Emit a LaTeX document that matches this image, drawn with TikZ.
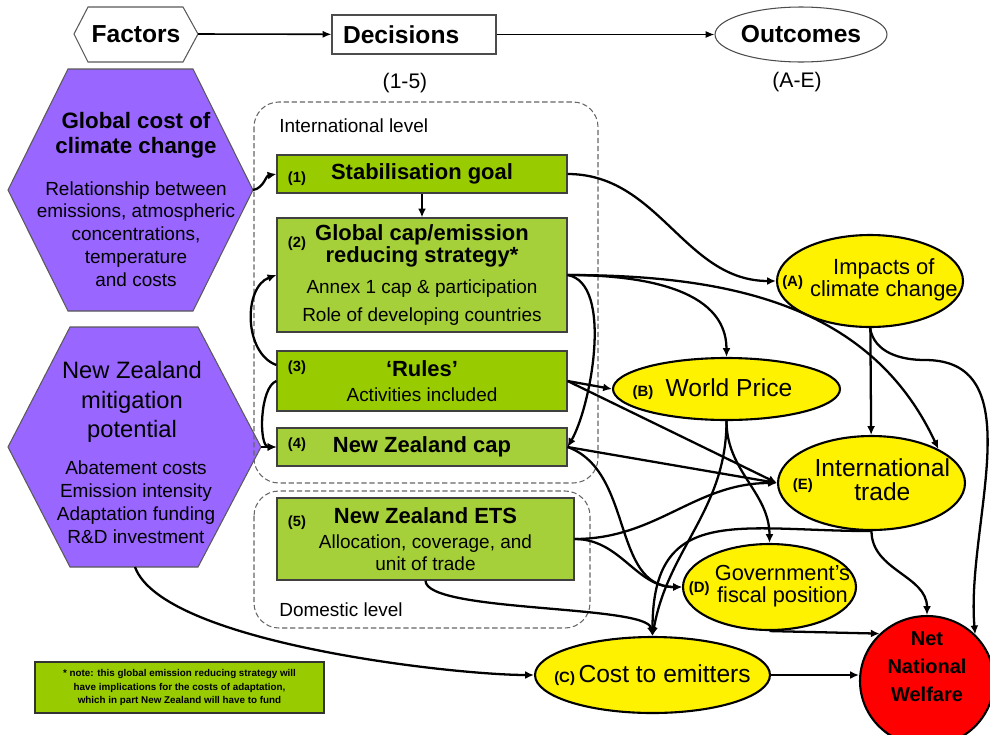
\documentclass[tikz,border=0pt]{standalone}
\usepackage{fontspec}
\setmainfont{Liberation Sans}
\usetikzlibrary{positioning,calc,arrows.meta,shapes.geometric}

\definecolor{hexpurple}{RGB}{153,102,255}
\definecolor{darkgreen}{RGB}{153,204,0}
\definecolor{lightgreen}{RGB}{166,208,57}

\newcommand{\olbl}[1]{{\fontsize{8.5}{10}\selectfont\bfseries #1}}
\newcommand{\btitle}{\fontsize{12.5}{12.5}\selectfont\bfseries}

\begin{document}
\begin{tikzpicture}[
    x=0.02cm, y=-0.02cm,
    hexline/.style={draw=black!65, line width=0.6pt},
    headlbl/.style={font=\fontsize{14}{16}\selectfont\bfseries, inner sep=0},
    rangelbl/.style={font=\fontsize{12}{14}\selectfont, inner sep=0},
    hextitle/.style={align=center, inner sep=0},
    hextext/.style={align=center, inner sep=0, font=\fontsize{10.8}{13}\selectfont},
    levelframe/.style={draw=black!60, line width=0.6pt, dash pattern=on 3pt off 1.6pt, rounded corners=0.5cm},
    leveltxt/.style={anchor=west, inner sep=0, font=\fontsize{10.8}{13}\selectfont},
    decision/.style={rectangle, draw=black!75, line width=0.7pt, minimum width=5.8cm, align=center, inner sep=0, font=\fontsize{10.8}{12.5}\selectfont},
    numtag/.style={inner sep=0, font=\fontsize{8.4}{10}\selectfont\bfseries},
    outcome/.style={ellipse, draw=black, line width=1.2pt, fill=yellow, inner sep=-0.5cm},
    notebox/.style={rectangle, draw=black!80, line width=1.2pt, fill=darkgreen, minimum width=5.78cm, minimum height=1.02cm, align=center, font=\fontsize{5.6}{7.7}\selectfont\bfseries},
    conn/.style={-{Latex[length=5pt,width=4.5pt]}, line width=1.3pt},
    harrow/.style={-{Latex[length=5pt,width=4pt]}, line width=0.9pt}
]
\useasboundingbox (0,0) rectangle (990,734);

% Header row
\draw[hexline, fill=white] (74,34) -- (88,7) -- (183,7) -- (198,34) -- (183,62) -- (88,62) -- cycle;
\coordinate (factors-tip) at (198,34);
\node[headlbl] (factors) at (136,34) {Factors};
\node[headlbl, rectangle, draw=black!70, line width=0.6pt, text width=2.84cm, align=left, inner xsep=0.22cm, minimum height=0.78cm] (decisions) at (414,34.5) {Decisions};
\node[headlbl, ellipse, draw=black!70, line width=0.6pt, fill=white, minimum width=3.44cm, minimum height=1.1cm] (outcomes) at (801,34.5) {Outcomes};
\node[rangelbl] (drange) at (405,83) {(1-5)};
\node[rangelbl] (orange) at (797,82) {(A-E)};
\draw[harrow] (factors-tip) -- (decisions);
\draw[harrow] (decisions) -- (outcomes);

% Factors
\draw[hexline, fill=hexpurple] (8,190) -- (68,69) -- (193,69) -- (253,190) -- (193,311) -- (68,311) -- cycle;
\coordinate (gc-tip) at (253,190);
\node[hextitle, font=\fontsize{12.7}{14.2}\selectfont\bfseries] (gc-title) at (136,135) {Global cost of\\climate change};
\node[hextext] (gc-text) at (136,234) {Relationship between\\emissions, atmospheric\\concentrations,\\temperature\\and costs};

\draw[hexline, fill=hexpurple] (8,447) -- (70,327) -- (198,327) -- (261,447) -- (198,567) -- (70,567) -- cycle;
\coordinate (nz-tip) at (261,447);
\coordinate (nz-base) at (135,567);
\node[hextitle, font=\fontsize{13.5}{16.8}\selectfont] (nz-title) at (132,402) {New Zealand\\mitigation\\potential};
\node[hextext] (nz-text) at (136,502) {Abatement costs\\Emission intensity\\Adaptation funding\\R\&D investment};

% Levels
\draw[levelframe] (254,102) rectangle (598,483);
\draw[levelframe] (254,491) rectangle (590,628);
\node[leveltxt] (intl-lbl) at (279,126) {International level};
\node[leveltxt] (dom-lbl) at (279,610) {Domestic level};

% Decisions
\node[decision, fill=darkgreen, minimum height=0.76cm] (b1) at (422,174) {\btitle Stabilisation goal};
\node[decision, fill=lightgreen, minimum height=2.28cm] (b2) at (422,275) {{\btitle Global cap/emission}\\{\btitle reducing strategy*}\\[5pt]Annex 1 cap \& participation\\[3.5pt]Role of developing countries};
\node[decision, fill=darkgreen, minimum height=1.2cm] (b3) at (422,381) {{\btitle ‘Rules’}\\[1.7pt]Activities included};
\node[decision, fill=lightgreen, minimum height=0.76cm] (b4) at (422,447) {\btitle New Zealand cap};
\node[decision, fill=lightgreen, minimum width=5.94cm, minimum height=1.64cm] (b5) at (425.5,539) {{\btitle New Zealand ETS}\\[1.7pt]Allocation, coverage, and\\unit of trade};
\node[numtag] (n1) at (297,179) {(1)};
\node[numtag] (n2) at (297,243.5) {(2)};
\node[numtag] (n3) at (297,367.5) {(3)};
\node[numtag] (n4) at (297,444.5) {(4)};
\node[numtag] (n5) at (297,523) {(5)};

\node[notebox] (note) at (179.5,687.5) {* note: this global emission reducing strategy will\\have implications for the costs of adaptation,\\which in part New Zealand will have to fund};

% Outcomes
\node[outcome, minimum width=3.72cm, minimum height=1.84cm, font=\fontsize{12.5}{11.4}\selectfont] (impacts) at (870,281) {\olbl{(A)}\hspace{4pt}\begin{tabular}{@{}c@{}}Impacts of\\climate change\end{tabular}};
\node[outcome, minimum width=4.54cm, minimum height=1.24cm, font=\fontsize{14}{16}\selectfont] (wp) at (726.5,389) {\olbl{(B)}\hspace{7pt}World Price\hspace*{16pt}};
\node[outcome, minimum width=3.74cm, minimum height=1.88cm, font=\fontsize{14}{13}\selectfont] (it) at (871.5,483) {\olbl{(E)}\hspace{1pt}\begin{tabular}{@{}c@{}}International\\trade\end{tabular}};
\node[outcome, minimum width=3.46cm, minimum height=1.72cm, font=\fontsize{12.4}{11}\selectfont] (gf) at (769.5,587) {\olbl{(D)}\hspace{3pt}\begin{tabular}{@{}c@{}}Government’s\\fiscal position\end{tabular}};
\node[outcome, minimum width=4.7cm, minimum height=1.52cm, font=\fontsize{14}{16}\selectfont] (ce) at (652.5,675) {\olbl{(C)}\hspace{2pt}Cost to emitters};
\node[outcome, fill=red, minimum width=2.68cm, minimum height=2.6cm, font=\fontsize{11.4}{16}\selectfont\bfseries] (nnw) at (927,681) {\begin{tabular}{@{}c@{}}Net\\National\\Welfare\\[14.8pt]\end{tabular}};

% Arrows
\draw[conn] (gc-tip) to[out=10,in=190] (b1.west);
\draw[conn] (b1) -- (b2);
\draw[conn] ([yshift=0.32cm]b3.west) to[out=160,in=200] (b2.west);
\draw[conn] (b3.west) to[out=200,in=180,looseness=0.7] (b4.west);
\draw[conn] (nz-tip) -- (b4.west);
\draw[conn] (b1.east) to[out=0,in=180] (impacts.west);
\draw[conn] (b2.east) to[out=0,in=90] (wp.north);
\draw[conn] (b2.east) to[out=0,in=115] (it.north east);
\draw[conn] (b2.east) to[out=-10,in=60,looseness=0.7] (b4.east);
\draw[conn] (b3.east) -- (wp.west);
\draw[conn] (b3.east) -- (it.west);
\draw[conn] (b4.east) -- (it.west);
\draw[conn] (b4.east) to[out=-20,in=180] (gf.west);
\draw[conn] (b5.east) to[out=0,in=180] (it.west);
\draw[conn] (b5.east) to[out=0,in=180] (gf.west);
\draw[conn] (b5.south) to[out=-90,in=100,looseness=0.35] (ce.north);
\draw[conn] (nz-base) to[out=-70,in=180,looseness=0.5] (ce.west);
\draw[conn] (wp.south) to[out=-90,in=80] (ce.north);
\draw[conn] (wp.south) to[out=-90,in=90] (gf.north);
\draw[conn] (it.south) to[out=180,in=90,looseness=1.4] (ce.north);
\draw[conn] (impacts) -- (it);
\draw[conn] (impacts.south) to[out=-80,in=180] (925,360) to[out=0,in=95] (nnw.north east);
\draw[conn] (it.south) to[out=-90,in=90] (nnw.north);
\draw[conn] (gf.south) -- (nnw.135);
\draw[conn] (ce.east) -- (ce.east -| nnw.west);

\end{tikzpicture}
\end{document}
